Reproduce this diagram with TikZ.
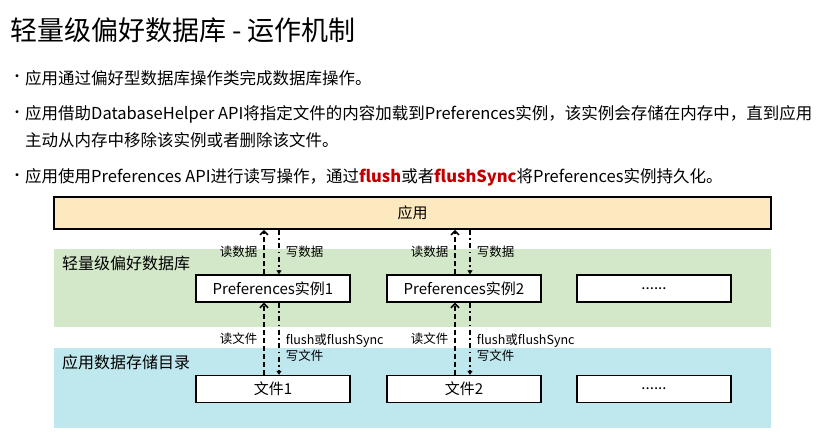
\documentclass[tikz,border=0pt]{standalone}
\usepackage{fontspec}
\setmainfont{Noto Sans CJK SC}
\usetikzlibrary{positioning,arrows.meta}
\definecolor{appfill}{HTML}{FCE9C0}
\definecolor{dbfill}{HTML}{D3E8C8}
\definecolor{dirfill}{HTML}{BFE8EE}
\definecolor{flushred}{HTML}{C00000}

\begin{document}
\begin{tikzpicture}[x=1pt, y=-1pt,
    box/.style={rectangle, draw, fill=white, line width=1.4pt, minimum width=154pt, minimum height=27pt, inner sep=0pt, font=\fontsize{15}{18}\selectfont},
    tag/.style={inner sep=0pt, font=\fontsize{12.5}{16}\selectfont},
    bullet/.style={anchor=west, inner sep=0pt, font=\fontsize{16.5}{20}\selectfont},
    dot/.style={inner sep=0pt, font=\fontsize{14}{16}\selectfont},
    readarrow/.style={line width=1.5pt, dash pattern=on 5pt off 3pt, -{Straight Barb[length=4pt,width=8pt]}},
    writearrow/.style={line width=1.5pt, dash pattern=on 5pt off 3.5pt on 1.5pt off 3.5pt, -{Triangle[length=4pt,width=5pt]}}]
	\useasboundingbox (0,0) rectangle (820,432);
	% title and bullets
	\node (TITLE) at (10,30) [anchor=west, inner sep=0pt, font=\fontsize{27}{30}\selectfont] {轻量级偏好数据库 - 运作机制};
	\node (B1) at (17,78) [dot] {•};
	\node (L1) at (25,78) [bullet] {应用通过偏好型数据库操作类完成数据库操作。};
	\node (B2) at (17,114) [dot] {•};
	\node (L2) at (25,114) [bullet] {应用借助DatabaseHelper API将指定文件的内容加载到Preferences实例，该实例会存储在内存中，直到应用};
	\node (L2B) at (25,140) [bullet] {主动从内存中移除该实例或者删除该文件。};
	\node (B3) at (17,177) [dot] {•};
	\node (L3) at (25,177) [bullet] {应用使用Preferences API进行读写操作，通过{\bfseries\color{flushred}flush}或者{\bfseries\color{flushred}flushSync}将Preferences实例持久化。};
	% bands
	\fill[dbfill] (54,249) rectangle (771,327);
	\fill[dirfill] (54,348) rectangle (771,428);
	\node (DB) at (62,263) [anchor=west, inner sep=0pt, font=\fontsize{16}{20}\selectfont] {轻量级偏好数据库};
	\node (DIR) at (62,362) [anchor=west, inner sep=0pt, font=\fontsize{16}{20}\selectfont] {应用数据存储目录};
	% boxes
	\node (APP) at (412.5,213) [draw, fill=appfill, line width=1.8pt, minimum width=717pt, minimum height=32pt, inner sep=0pt, font=\fontsize{15}{18}\selectfont] {应用};
	\node (PREF1) at (273,288.5) [box] {Preferences实例1};
	\node (PREF2) at (464,288.5) [box] {Preferences实例2};
	\node (PREFX) at (654,288.5) [box] {......};
	\node (FILE1) at (273,389) [box] {文件1};
	\node (FILE2) at (464,389) [box] {文件2};
	\node (FILEX) at (654,389) [box] {......};
	% read and write
	\draw[readarrow] ([xshift=-9pt]PREF1.north) -- ([xshift=-9pt]PREF1.north |- APP.south) node[midway, tag, left=6pt] {读数据};
	\draw[writearrow] ([xshift=6pt]PREF1.north |- APP.south) -- ([xshift=6pt]PREF1.north) node[midway, tag, right=6pt] {写数据};
	\draw[readarrow] ([xshift=-9pt]PREF2.north) -- ([xshift=-9pt]PREF2.north |- APP.south) node[midway, tag, left=6pt] {读数据};
	\draw[writearrow] ([xshift=6pt]PREF2.north |- APP.south) -- ([xshift=6pt]PREF2.north) node[midway, tag, right=6pt] {写数据};
	\draw[readarrow] ([xshift=-9pt]FILE1.north) -- ([xshift=-9pt]PREF1.south) node[midway, tag, left=6pt] {读文件};
	\draw[writearrow] ([xshift=6pt]PREF1.south) -- ([xshift=6pt]FILE1.north) node[midway, tag, right=6pt, align=left, yshift=-9pt] {flush或flushSync\\写文件};
	\draw[readarrow] ([xshift=-9pt]FILE2.north) -- ([xshift=-9pt]PREF2.south) node[midway, tag, left=6pt] {读文件};
	\draw[writearrow] ([xshift=6pt]PREF2.south) -- ([xshift=6pt]FILE2.north) node[midway, tag, right=6pt, align=left, yshift=-9pt] {flush或flushSync\\写文件};
\end{tikzpicture}
\end{document}
